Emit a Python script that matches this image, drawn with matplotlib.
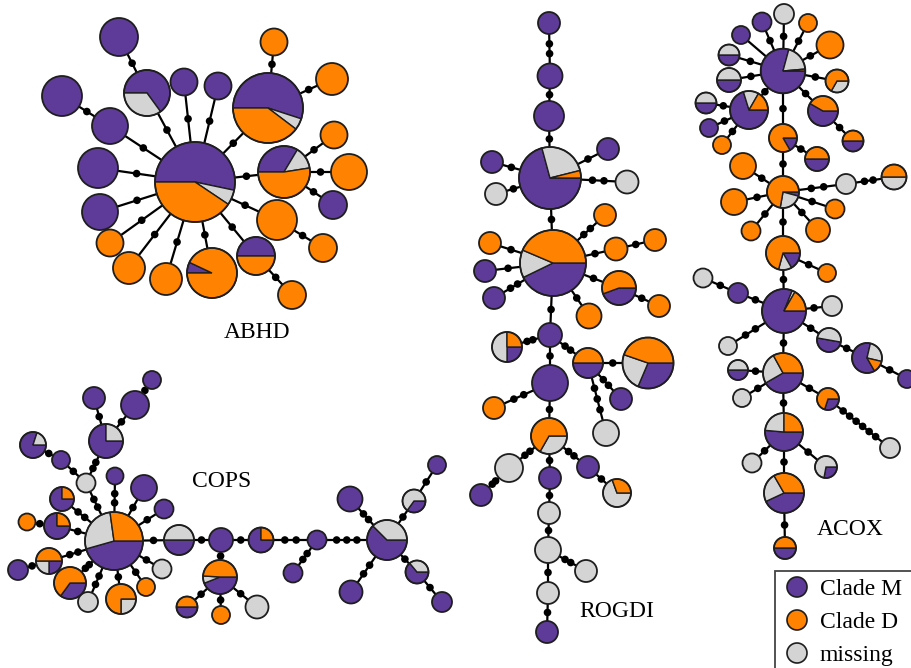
import numpy as np
import matplotlib
matplotlib.use("Agg")
import matplotlib.pyplot as plt
from matplotlib.patches import Wedge, Circle, Rectangle

W, H = 911, 668
PURPLE = "#5e3b99"
ORANGE = "#ff8200"
GREY = "#d4d4d4"
OUTLINE = "#1e1e1e"
CLADE_COLORS = [PURPLE, GREY, ORANGE]   # wedge order: Clade M, missing, Clade D
DOT_R = 3.8

# ---------------- ABHD ----------------
abhd_m    = [53.3, 55, 0, 0, 33.6, 0, 0, 100, 0, 0, 50, 0, 7, 0, 0, 0, 100, 100, 100, 100, 65, 100, 100, 100]
abhd_miss = [6.1, 5.3, 0, 0, 13.9, 0, 0, 0, 0, 0, 0, 0, 0, 0, 0, 0, 0, 0, 0, 0, 35, 0, 0, 0]
abhd_d    = [40.6, 39.7, 100, 100, 52.5, 100, 100, 0, 100, 100, 50, 100, 93, 100, 100, 100, 0, 0, 0, 0, 0, 0, 0, 0]
abhd_x = [195, 268, 274, 332, 284, 334, 349, 333, 277, 323, 256, 292, 212, 166, 129, 110, 100, 98, 110, 62, 147, 119, 184, 218]
abhd_y = [182, 108, 42, 79, 172, 135, 172, 205, 220, 248, 256, 295, 273, 279, 268, 243, 212, 168, 126, 96, 93, 37, 82, 86]
abhd_r = [40, 35, 13.5, 16, 26, 13.5, 18, 14, 20, 14, 19, 14, 25, 16, 16, 13.5, 18, 20, 18, 20, 23, 19, 13.5, 13.5]
abhd_start = [180, 180, 0, 0, 180, 0, 0, 0, 0, 0, 180, 0, 180, 0, 0, 0, 0, 0, 0, 0, 180, 0, 0, 0]
abhd_links = [(0, 1, 1), (1, 2, 1), (1, 3, 1), (0, 4, 1), (4, 5, 1), (4, 6, 1), (4, 7, 1),
              (0, 8, 1), (8, 9, 1), (0, 10, 1), (10, 11, 1), (0, 12, 1), (0, 13, 1),
              (0, 14, 1), (0, 15, 1), (0, 16, 1), (0, 17, 1), (0, 18, 1), (18, 19, 1),
              (0, 20, 1), (20, 21, 1), (0, 22, 1), (0, 23, 1)]

# ---------------- ROGDI ----------------
rogdi_m    = [100, 100, 100, 70.8, 100, 0, 100, 0, 42.8, 0, 100, 100, 0, 0, 0, 44.4, 0, 0, 100,
              25, 50, 31.4, 100, 0, 100, 0, 0, 0, 100, 100, 100, 0, 0, 0, 0, 0, 100]
rogdi_miss = [0, 0, 0, 25.3, 0, 100, 0, 100, 13.6, 0, 0, 0, 0, 0, 0, 0, 0, 0, 0,
              50, 0, 23.9, 0, 100, 0, 0, 33.3, 100, 0, 0, 0, 69.4, 100, 100, 100, 100, 0]
rogdi_d    = [0, 0, 0, 3.9, 0, 0, 0, 0, 43.6, 100, 0, 0, 100, 100, 100, 55.6, 100, 100, 0,
              25, 50, 44.7, 0, 0, 0, 100, 66.7, 0, 0, 0, 0, 30.6, 0, 0, 0, 0, 0]
rogdi_x = [549, 550, 549, 550, 492, 496, 608, 627, 553, 490, 485, 494, 605, 616, 655, 619, 659, 589, 550,
           507, 588, 648, 621, 606, 550, 494, 549, 509, 481, 550, 588, 617, 549, 548, 586, 548, 547]
rogdi_y = [23, 76, 116, 178, 162, 194, 149, 182, 263, 243, 271, 298, 215, 249, 240, 288, 306, 316, 335,
           347, 363, 363, 399, 433, 383, 408, 436, 468, 495, 478, 467, 493, 513, 550, 571, 593, 632]
rogdi_r = [11, 12.5, 15, 31, 11, 11, 11, 11.5, 33, 11, 11, 11, 11, 11.5, 11, 17, 11, 12.5, 12,
           15, 15, 25.5, 11, 13, 18, 11, 18, 14, 11, 11, 11, 14, 11, 13, 11, 11, 11]
rogdi_start = [0] * 37
rogdi_links = [(0, 1, 2), (1, 2, 1), (2, 3, 1), (3, 4, 1), (3, 5, 1), (3, 6, 1), (3, 7, 2),
               (3, 8, 1), (8, 9, 1), (8, 10, 1), (8, 11, 2), (8, 12, 2), (8, 13, 1), (13, 14, 1),
               (8, 15, 1), (15, 16, 1), (8, 17, 1), (8, 18, 1), (18, 19, 2), (18, 20, 2),
               (20, 21, 1), (20, 22, 2), (20, 23, 3), (18, 24, 1), (24, 25, 2), (24, 26, 1),
               (26, 27, 2), (27, 28, 2), (26, 29, 1), (26, 30, 2), (30, 31, 1), (29, 32, 1),
               (32, 33, 1), (33, 34, 2), (33, 35, 1), (35, 36, 1)]

# ---------------- COPS ----------------
cops_m    = [45.6, 50, 100, 75, 100, 62.5, 100, 35, 100, 64, 100, 100, 100, 44, 50, 0, 0, 0, 0,
             0, 0, 35, 25, 100, 0, 75, 75, 0, 100, 80, 75, 100, 100, 100, 100, 100, 100]
cops_miss = [27.2, 50, 0, 0, 0, 37.5, 0, 65, 0, 36, 0, 0, 0, 7, 0, 0, 100, 100, 0,
             25, 100, 0, 25, 0, 0, 0, 0, 100, 0, 20, 25, 0, 0, 0, 0, 0, 0]
cops_d    = [27.2, 0, 0, 25, 0, 0, 0, 0, 0, 0, 0, 0, 0, 49, 50, 100, 0, 0, 100,
             75, 0, 65, 50, 0, 100, 25, 25, 0, 0, 0, 0, 0, 0, 0, 0, 0, 0]
cops_x = [114, 179, 221, 261, 317, 387, 350, 414, 437, 417, 442, 351, 293, 220, 187, 221, 257, 162, 146,
          121, 88, 70, 49, 18, 27, 57, 62, 86, 61, 33, 106, 94, 135, 152, 115, 144, 164]
cops_y = [541, 540, 540, 540, 540, 540, 499, 501, 465, 572, 602, 592, 573, 577, 607, 615, 607, 569, 587,
          599, 602, 583, 561, 570, 522, 526, 499, 483, 460, 445, 441, 398, 405, 380, 476, 488, 509]
cops_r = [29, 15, 12, 12.5, 9.5, 20, 12.5, 11.5, 9, 11.5, 10, 11.5, 9.5, 17, 10.5, 9, 11.5, 9.5, 9,
          15, 10, 16, 13, 10, 8.5, 13, 12, 9.5, 9, 13, 17, 11, 14, 9, 8.5, 13, 9.5]
cops_start = [0] * 37
cops_links = [(0, 1, 1), (1, 2, 1), (2, 3, 1), (3, 4, 2), (4, 5, 3), (5, 6, 2), (5, 7, 1),
              (7, 8, 1), (5, 9, 1), (9, 10, 1), (5, 11, 2), (4, 12, 2), (2, 13, 1), (13, 14, 1),
              (13, 15, 1), (13, 16, 1), (0, 17, 1), (0, 18, 1), (0, 19, 1), (0, 20, 2),
              (0, 21, 2), (0, 22, 2), (22, 23, 1), (25, 24, 1), (0, 25, 1), (0, 26, 2),
              (0, 27, 2), (27, 28, 1), (28, 29, 1), (27, 30, 2), (30, 31, 1), (30, 32, 1),
              (32, 33, 1), (0, 34, 2), (0, 35, 1), (0, 36, 1)]

# ---------------- ACOX ----------------
acox_m    = [79.2, 0, 100, 0, 0, 100, 50, 50, 0, 70.3, 50, 100, 0, 58.3, 50, 16.7, 50, 4.2, 0, 0, 0,
             0, 0, 0, 0, 16.7, 0, 81.1, 100, 0, 0, 0, 50, 62, 100, 50, 41.7, 0, 30, 0, 51.4, 0, 28,
             43, 50]
acox_miss = [19.4, 100, 0, 0, 0, 0, 50, 50, 33.3, 13.1, 50, 0, 0, 0, 0, 0, 0, 23.6, 0, 0, 0,
             100, 50, 0, 0, 12.5, 0, 2.2, 0, 100, 100, 100, 50, 25, 0, 50, 25.3, 100, 0, 100, 23.6,
             100, 72, 23.6, 0]
acox_d    = [1.4, 0, 0, 100, 100, 0, 0, 0, 66.7, 16.7, 0, 0, 100, 41.7, 50, 83.3, 50, 72.2, 100,
             100, 100, 0, 50, 100, 100, 70.8, 100, 16.7, 0, 0, 0, 0, 0, 13, 0, 0, 33, 0, 70, 0,
             25, 0, 0, 33.3, 50]
acox_x = [783, 784, 762, 808, 830, 741, 729, 729, 837, 749, 706, 709, 722, 823, 853, 783, 817, 783,
          743, 734, 751, 846, 894, 835, 818, 783, 827, 784, 738, 703, 832, 728, 829, 867, 907, 738,
          783, 742, 828, 890, 784, 752, 826, 784, 785]
acox_y = [71, 14, 22, 23, 45, 35, 55, 80, 81, 110, 103, 128, 145, 111, 141, 138, 159, 192, 166,
          202, 231, 184, 177, 209, 230, 253, 273, 311, 293, 278, 306, 346, 340, 358, 379, 370, 373,
          398, 399, 448, 432, 463, 467, 493, 548]
acox_r = [22.3, 10, 9.5, 9, 13.5, 9, 10.5, 12, 11.5, 19, 10.5, 9, 9, 15, 10.5, 14, 12, 16, 13,
          13, 9.5, 10, 12.5, 9.5, 12, 17, 9, 22, 10, 9.5, 10, 9, 12, 15, 9, 10, 20, 9, 11, 10,
          19, 9.5, 11, 20, 11]
acox_start = [0] * 45
acox_start[32] = -10
acox_start[33] = -60
acox_links = [(0, 1, 1), (0, 2, 1), (0, 3, 1), (0, 4, 1), (0, 5, 0), (0, 6, 1), (0, 7, 1),
              (0, 8, 1), (0, 9, 1), (9, 10, 1), (9, 11, 1), (9, 12, 1), (0, 13, 1), (13, 14, 1),
              (0, 15, 1), (15, 16, 1), (15, 17, 1), (17, 18, 1), (17, 19, 1), (17, 20, 1),
              (17, 21, 2), (21, 22, 2), (17, 23, 1), (17, 24, 1), (17, 25, 1), (25, 26, 1),
              (25, 27, 1), (27, 28, 1), (28, 29, 1), (27, 30, 1), (27, 31, 2), (27, 32, 1),
              (32, 33, 1), (33, 34, 1), (27, 36, 1), (36, 35, 1), (36, 37, 1), (36, 38, 1),
              (38, 39, 6), (36, 40, 1), (40, 41, 1), (40, 42, 1), (40, 43, 1), (43, 44, 1)]

gene_names = ["ABHD", "COPS", "ROGDI", "ACOX"]
gene_label_xy = [(257, 338), (222, 487), (617, 617), (850, 535)]
legend_names = ["Clade M", "Clade D", "missing"]
legend_colors = [PURPLE, ORANGE, GREY]


def draw_network(ax, xs, ys, rs, m, miss, d, start, links):
    # connecting lines with the inferred intermediate haplotypes as black dots
    for i, j, n in links:
        ax.plot([xs[i], xs[j]], [ys[i], ys[j]], color="black", lw=1.6,
                zorder=1, solid_capstyle="butt")
        dx, dy = xs[j] - xs[i], ys[j] - ys[i]
        length = np.hypot(dx, dy)
        a, b = rs[i], length - rs[j]
        for k in range(1, n + 1):
            t = (a + (b - a) * k / (n + 1)) / length
            ax.add_patch(Circle((xs[i] + dx * t, ys[i] + dy * t), DOT_R,
                                facecolor="black", edgecolor="none", zorder=2))
    # haplotype pies (y axis is inverted, so increasing data angle runs clockwise)
    for k in range(len(xs)):
        shares = [m[k], miss[k], d[k]]
        total = float(sum(shares))
        parts = [(s, c) for s, c in zip(shares, CLADE_COLORS) if s > 0]
        if len(parts) == 1:
            ax.add_patch(Circle((xs[k], ys[k]), rs[k], facecolor=parts[0][1],
                                edgecolor=OUTLINE, lw=1.3, zorder=3))
            continue
        theta = -start[k]
        for s, c in parts:
            span = 360.0 * s / total
            ax.add_patch(Wedge((xs[k], ys[k]), rs[k], theta, theta + span,
                               facecolor=c, edgecolor=OUTLINE, lw=1.0, zorder=3))
            theta += span
        ax.add_patch(Circle((xs[k], ys[k]), rs[k], fill=False,
                            edgecolor=OUTLINE, lw=1.3, zorder=4))


fig = plt.figure(figsize=(W / 100, H / 100), dpi=100)
ax = fig.add_axes([0, 0, 1, 1])
ax.set_xlim(0, W)
ax.set_ylim(H, 0)
ax.set_aspect("equal")
ax.axis("off")

draw_network(ax, abhd_x, abhd_y, abhd_r, abhd_m, abhd_miss, abhd_d, abhd_start, abhd_links)
draw_network(ax, rogdi_x, rogdi_y, rogdi_r, rogdi_m, rogdi_miss, rogdi_d, rogdi_start, rogdi_links)
draw_network(ax, cops_x, cops_y, cops_r, cops_m, cops_miss, cops_d, cops_start, cops_links)
draw_network(ax, acox_x, acox_y, acox_r, acox_m, acox_miss, acox_d, acox_start, acox_links)

serif = ["Liberation Serif", "DejaVu Serif"]
for name, (tx, ty) in zip(gene_names, gene_label_xy):
    ax.text(tx, ty, name, family=serif, fontsize=17, ha="center", va="baseline", zorder=5)

# legend box running off the lower right corner
ax.add_patch(Rectangle((775, 571), 150, 110, facecolor="white", edgecolor="#444444",
                       lw=1.3, zorder=6, clip_on=True))
for k, (name, col) in enumerate(zip(legend_names, legend_colors)):
    ly = 587 + k * 33
    ax.add_patch(Circle((797, ly), 10, facecolor=col, edgecolor=OUTLINE, lw=1.2, zorder=7))
    ax.text(820, ly + 8, name, family=serif, fontsize=17, ha="left", va="baseline", zorder=7)

fig.savefig("out.png", dpi=100)
